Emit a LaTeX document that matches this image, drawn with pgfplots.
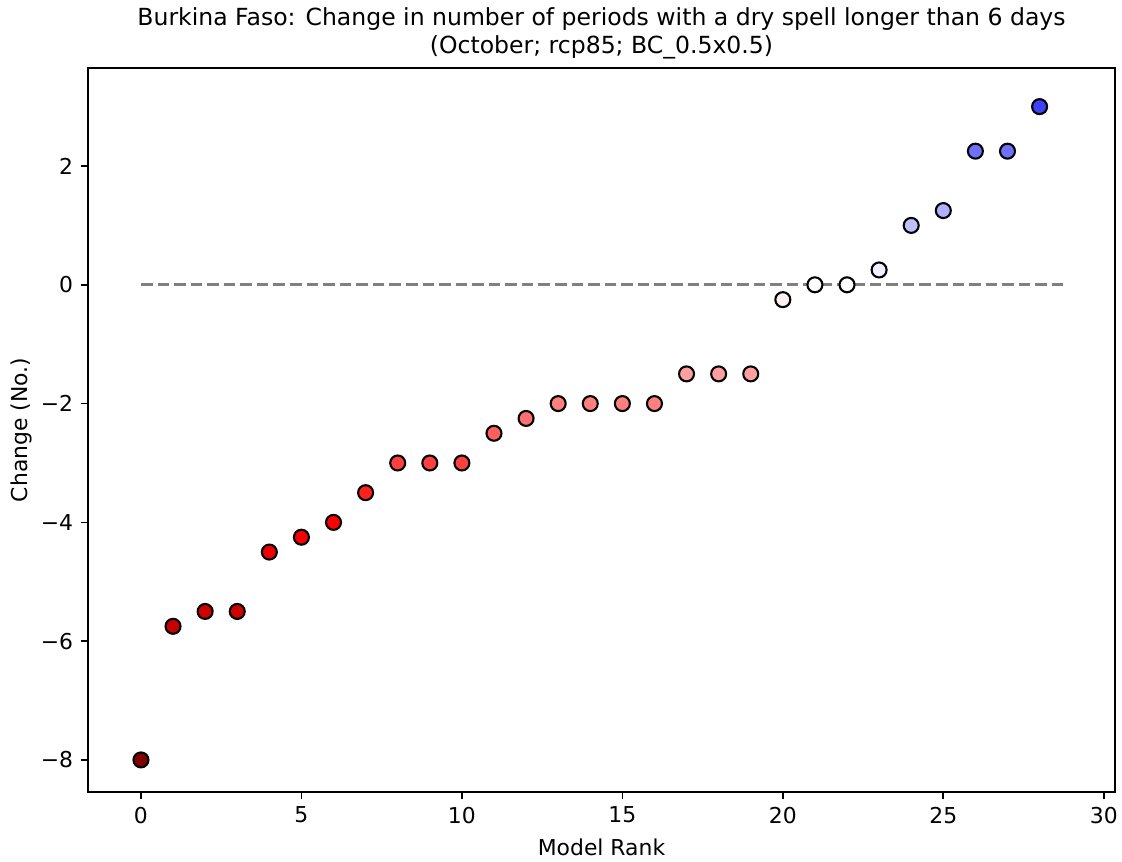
\documentclass[border=0pt]{standalone}
\usepackage{fontspec}
\setmainfont{DejaVu Sans}
\usepackage{pgfplots}
\usepackage{pgfplotstable}
\pgfplotsset{compat=1.18}

% model rank vs change in number of dry-spell periods
\pgfplotstableread{
rank change
0  -8
1  -5.75
2  -5.5
3  -5.5
4  -4.5
5  -4.25
6  -4
7  -3.5
8  -3
9  -3
10 -3
11 -2.5
12 -2.25
13 -2
14 -2
15 -2
16 -2
17 -1.5
18 -1.5
19 -1.5
20 -0.25
21 0
22 0
23 0.25
24 1
25 1.25
26 2.25
27 2.25
28 3
}\changetable

\begin{document}
\begin{tikzpicture}
\useasboundingbox (0,0) rectangle (538.56pt,413.28pt);
\begin{axis}[
    at={(42.24pt,33.12pt)}, anchor=south west,
    scale only axis,
    width=492.96pt, height=347.52pt,
    xmin=-1.65, xmax=30.35,
    ymin=-8.54, ymax=3.65,
    xtick={0,5,...,30},
    xticklabels={0,5,10,15,20,25,30},
    ytick={-8,-6,-4,-2,0,2},
    yticklabels={−8,−6,−4,−2,0,2},
    xtick pos=left, ytick pos=left,
    tick align=outside,
    major tick length=3.5pt,
    tick style={black, line width=0.8pt},
    axis line style={line width=0.8pt},
    font=\fontsize{10.5}{12.6}\selectfont,
    xticklabel style={inner sep=0pt, yshift=-3.5pt},
    yticklabel style={inner sep=0pt, xshift=-3.5pt},
    title={Burkina Faso: Change in number of periods with a dry spell longer than 6 days\\(October; rcp85; BC\_0.5x0.5)},
    title style={align=center, font=\fontsize{11.3}{13.6}\selectfont, inner sep=0pt, yshift=-2pt},
    xlabel={Model Rank},
    ylabel={Change (No.)},
    xlabel style={inner sep=0pt, yshift=-7pt},
    ylabel style={inner sep=0pt, yshift=4pt},
    colormap={seismicr}{rgb=(0.5,0,0) rgb=(1,0,0) rgb=(1,1,1) rgb=(0,0,1) rgb=(0,0,0.3)},
    point meta min=-8, point meta max=8,
]
\addplot[gray, line width=1.5pt, dash pattern=on 5.55pt off 2.4pt, forget plot]
    coordinates {(0,0) (28.88,0)};
\addplot[
    scatter, only marks, mark=*, mark size=3.6pt,
    scatter src=explicit,
    scatter/use mapped color={draw=black, fill=mapped color, line width=1pt},
] table[x=rank, y=change, meta=change] {\changetable};
\end{axis}
\end{tikzpicture}
\end{document}
